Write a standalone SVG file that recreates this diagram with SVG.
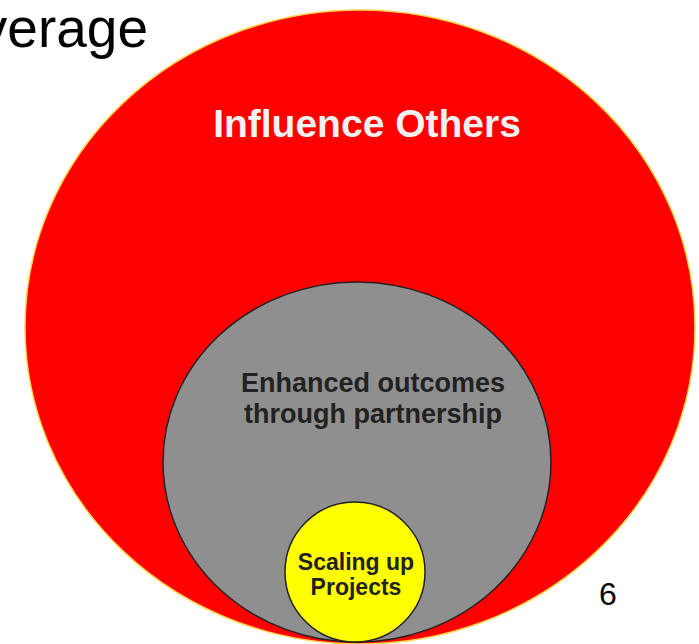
<svg xmlns="http://www.w3.org/2000/svg" width="699" height="644" viewBox="0 0 699 644">
<style>
.t{font-family:"Liberation Sans",Arial,sans-serif;}
.b{font-weight:bold;text-anchor:middle;}
.dk{fill:#222222;}
</style>
<rect width="699" height="644" fill="#ffffff"/>
<text class="t" x="148" y="47" font-size="55" text-anchor="end" fill="#000">verage</text>
<g id="influence">
<ellipse cx="360" cy="327" rx="335" ry="317" fill="#ff0000" stroke="#ffd24a" stroke-width="1.5"/>
<text class="t b" x="367" y="137" font-size="39" fill="#f2f2f2">Influence Others</text>
</g>
<g id="enhanced">
<ellipse cx="357" cy="462" rx="194" ry="180" fill="#8f8f8f" stroke="#222" stroke-width="1.5"/>
<text class="t b dk" x="373" y="392" font-size="27">Enhanced outcomes</text>
<text class="t b dk" x="373" y="423" font-size="27">through partnership</text>
</g>
<g id="scaling">
<ellipse cx="355" cy="572" rx="70" ry="70" fill="#ffff00" stroke="#222" stroke-width="1.5"/>
<text class="t b dk" x="356" y="570" font-size="23">Scaling up</text>
<text class="t b dk" x="356" y="595" font-size="23">Projects</text>
</g>
<g id="connectors"></g>
<text class="t" x="608" y="605" font-size="32" text-anchor="middle" fill="#000">6</text>
</svg>
